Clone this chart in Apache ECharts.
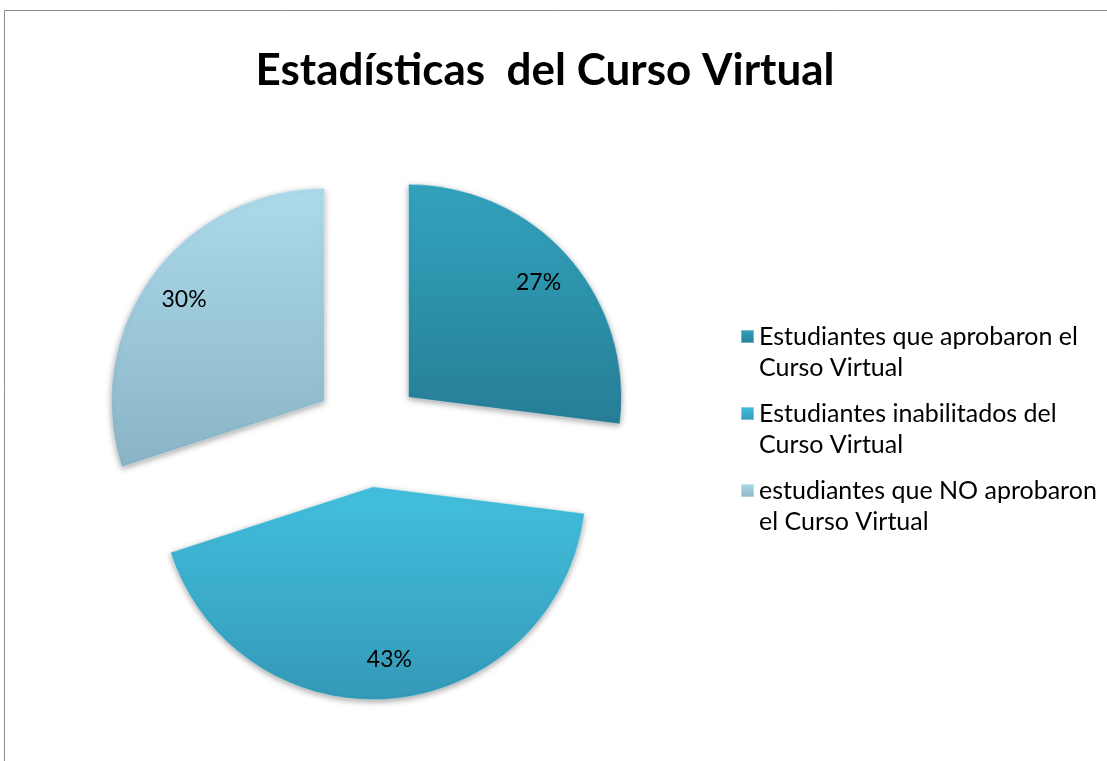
<!DOCTYPE html>
<html>
<head>
<meta charset="utf-8">
<script src="https://cdn.jsdelivr.net/npm/echarts@6/dist/echarts.min.js"></script>
<style>
  html, body { margin: 0; padding: 0; background: #fff; }
  #chart { width: 1107px; height: 761px; }
</style>
</head>
<body>
<div id="chart"></div>
<script>
const categories = [
  'Estudiantes que aprobaron el Curso Virtual',
  'Estudiantes inabilitados del Curso Virtual',
  'estudiantes que NO aprobaron el Curso Virtual'
]
const legendLines = [
  'Estudiantes que aprobaron el\nCurso Virtual',
  'Estudiantes inabilitados del\nCurso Virtual',
  'estudiantes que NO aprobaron\nel Curso Virtual'
]
const values = [27, 43, 30]

const sliceColors = [
  ['#33a3be', '#267e96'],
  ['#43c0df', '#3499b7'],
  ['#acdbec', '#8ab4c5']
]

const chart = echarts.init(document.getElementById('chart'))

const center = [368, 433]
const radius = 213
const offset = 54

const option = {
  animation: false,
  title: {
    text: 'Estadísticas  del Curso Virtual',
    left: 540,
    top: 44,
    textAlign: 'center',
    textStyle: {
      fontFamily: 'Lato',
      fontWeight: 'bold',
      fontSize: 44,
      color: '#000'
    }
  },
  legend: {
    orient: 'vertical',
    left: 740,
    top: 290,
    padding: 0,
    itemWidth: 13,
    itemHeight: 13,
    itemGap: -16,
    icon: 'rect',
    selectedMode: false,
    data: categories,
    // blank first line keeps the marker level with the first text line
    formatter: name => ' \n' + legendLines[categories.indexOf(name)],
    textStyle: {
      fontFamily: 'Lato',
      fontSize: 25,
      lineHeight: 31,
      color: '#000'
    }
  },
  graphic: [{
    type: 'polyline',
    silent: true,
    shape: { points: [[4.5, 800], [4.5, 10.5], [1200, 10.5]] },
    style: { stroke: '#8c8c8c', lineWidth: 1, fill: null }
  }],
  series: [
    {
      type: 'pie',
      center: center,
      radius: radius,
      startAngle: 90,
      clockwise: true,
      selectedMode: 'multiple',
      selectedOffset: offset,
      silent: true,
      label: { show: false },
      labelLine: { show: false },
      emphasis: { disabled: true },
      data: categories.map((name, i) => ({
        name: name,
        value: values[i],
        selected: true,
        itemStyle: {
          color: new echarts.graphic.LinearGradient(0, 0, 0, 1, [
            { offset: 0, color: sliceColors[i][0] },
            { offset: 1, color: sliceColors[i][1] }
          ]),
          borderColor: 'rgba(255,255,255,0.35)',
          borderWidth: 1,
          shadowColor: 'rgba(0,0,0,0.35)',
          shadowBlur: 6,
          shadowOffsetY: 2
        }
      }))
    },
    {
      // label-only ring so the percentages sit near the rim like the original
      type: 'pie',
      center: center,
      radius: [radius * 0.6, radius],
      startAngle: 90,
      clockwise: true,
      selectedMode: 'multiple',
      selectedOffset: offset,
      silent: true,
      itemStyle: { color: 'rgba(0,0,0,0)' },
      label: {
        show: true,
        position: 'inside',
        formatter: p => p.value + '%',
        fontFamily: 'Lato',
        fontSize: 23,
        color: '#000'
      },
      labelLine: { show: false },
      emphasis: { disabled: true },
      data: categories.map((name, i) => ({ name: name, value: values[i], selected: true }))
    }
  ]
}

chart.setOption(option)
</script>
</body>
</html>
